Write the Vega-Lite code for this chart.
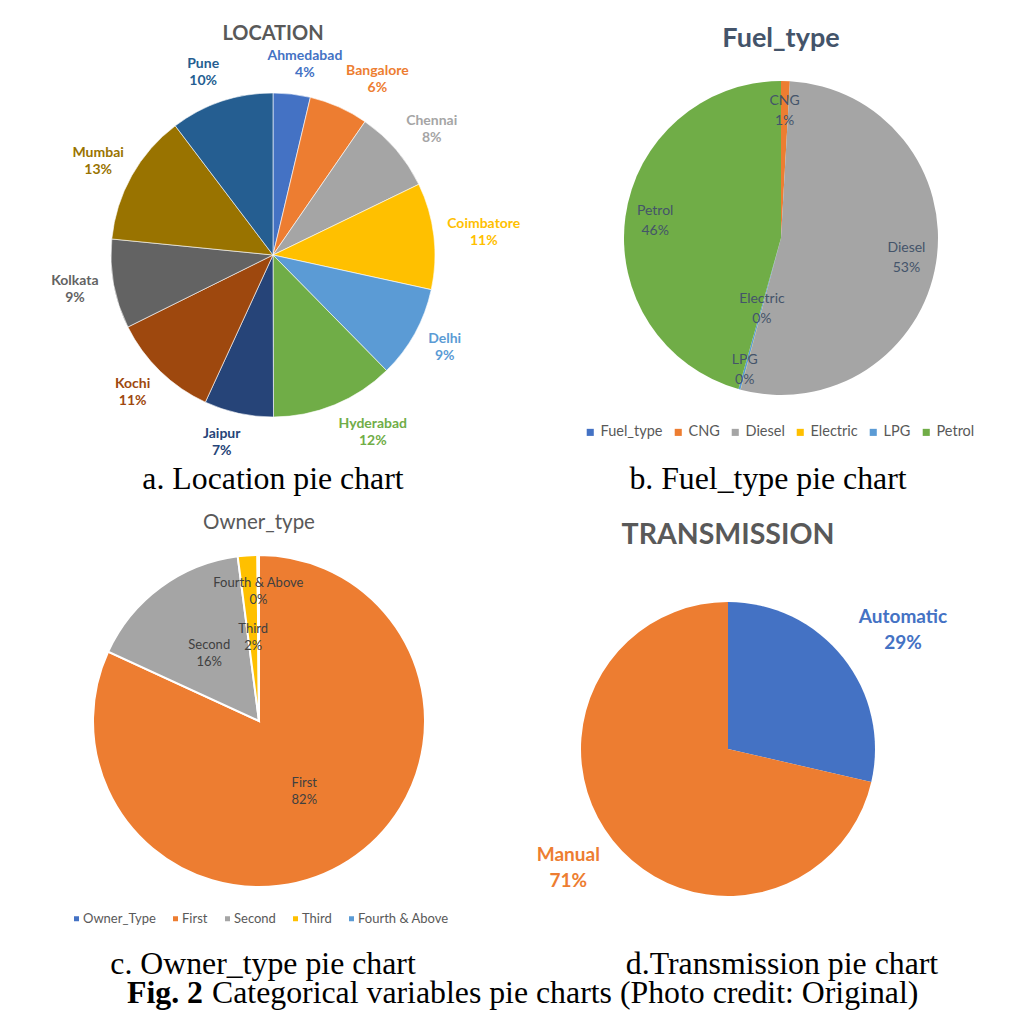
{
  "$schema": "https://vega.github.io/schema/vega-lite/v6.json",
  "padding": {"left": 51, "top": 23, "right": 0, "bottom": 0},
  "background": "white",
  "config": {"view": {"stroke": null}, "text": {"font": "Lato"}, "title": {"font": "Lato"}},
  "resolve": {"scale": {"color": "independent", "theta": "independent"}, "legend": {"color": "independent"}},
  "columns": 2,
  "spacing": {"row": 0, "column": 68},
  "bounds": "flush",
  "concat": [
    {
      "width": 400,
      "height": 318,
      "title": {"text": "LOCATION", "fontSize": 20, "fontWeight": "bold", "color": "#595959", "frame": "group", "offset": 5},
      "data": {"values": [
        {"name": "Ahmedabad", "v": 3.7, "k": 1},
        {"name": "Bangalore", "v": 5.9, "k": 2},
        {"name": "Chennai", "v": 8.2, "k": 3},
        {"name": "Coimbatore", "v": 10.6, "k": 4},
        {"name": "Delhi", "v": 9.2, "k": 5},
        {"name": "Hyderabad", "v": 12.3, "k": 6},
        {"name": "Jaipur", "v": 6.9, "k": 7},
        {"name": "Kochi", "v": 10.8, "k": 8},
        {"name": "Kolkata", "v": 8.9, "k": 9},
        {"name": "Mumbai", "v": 13.1, "k": 10},
        {"name": "Pune", "v": 10.3, "k": 11}
      ]},
      "transform": [{"calculate": "datum.name + '\\n' + format(datum.v, '.0f') + '%'", "as": "lab"}],
      "encoding": {
        "theta": {"field": "v", "type": "quantitative", "stack": true},
        "order": {"field": "k", "type": "quantitative"},
        "color": {"field": "name", "type": "nominal", "legend": null,
          "scale": {"domain": ["Ahmedabad","Bangalore","Chennai","Coimbatore","Delhi","Hyderabad","Jaipur","Kochi","Kolkata","Mumbai","Pune"],
                    "range": ["#4472C4","#ED7D31","#A5A5A5","#FFC000","#5B9BD5","#70AD47","#264478","#9E480E","#636363","#997300","#255E91"]}}
      },
      "layer": [
        {"mark": {"type": "arc", "outerRadius": 162, "stroke": "white", "strokeWidth": 0.6}},
        {"mark": {"type": "text", "radius": 175, "fontSize": 14, "fontWeight": "bold", "lineBreak": "\n", "lineHeight": 17,
                  "dx": {"expr": "(sin(PI*(datum.v_start+datum.v_end)/99.9) >= 0 ? 1 : -1) * min(1, 3*abs(sin(PI*(datum.v_start+datum.v_end)/99.9))) * length(datum.name) * 3.7"},
                  "dy": {"expr": "-8.5 - 17*cos(PI*(datum.v_start+datum.v_end)/99.9)"}},
         "encoding": {"text": {"field": "lab", "type": "nominal"}}}
      ]
    },
    {
      "width": 480,
      "height": 284,
      "title": {"text": "Fuel_type", "fontSize": 27, "fontWeight": "bold", "color": "#44546A", "frame": "group", "offset": 28},
      "data": {"values": [
        {"name": "CNG", "v": 0.9, "k": 1},
        {"name": "Diesel", "v": 53.2, "k": 2},
        {"name": "Electric", "v": 0.03, "k": 3},
        {"name": "LPG", "v": 0.2, "k": 4},
        {"name": "Petrol", "v": 45.6, "k": 5}
      ]},
      "transform": [{"calculate": "datum.name + '\\n' + format(datum.v, '.0f') + '%'", "as": "lab"}],
      "encoding": {
        "theta": {"field": "v", "type": "quantitative", "stack": true},
        "order": {"field": "k", "type": "quantitative"},
        "detail": {"field": "name", "type": "nominal"}
      },
      "layer": [
        {"mark": {"type": "arc", "outerRadius": 157},
         "encoding": {
           "color": {"field": "name", "type": "nominal",
             "scale": {"domain": ["Fuel_type","CNG","Diesel","Electric","LPG","Petrol"],
                       "range": ["#4472C4","#ED7D31","#A5A5A5","#FFC000","#5B9BD5","#70AD47"]},
             "legend": {"orient": "none", "legendX": 42, "legendY": 329, "direction": "horizontal", "title": null,
                        "symbolType": "square", "symbolSize": 50, "symbolStrokeWidth": 0, "labelFont": "Lato",
                        "labelFontSize": 14.5, "labelColor": "#595959", "columnPadding": 8, "labelOffset": 3}}
         }},
        {"mark": {"type": "text", "radius": 127, "dy": -10, "fontSize": 14, "lineBreak": "\n", "lineHeight": 20, "color": "#44546A"},
         "encoding": {"text": {"condition": {"test": "datum.name === 'Electric' || datum.name === 'LPG'", "value": ""}, "field": "lab", "type": "nominal"}}},
        {"mark": {"type": "text", "radius": 74, "dy": -10, "fontSize": 14, "lineBreak": "\n", "lineHeight": 20, "color": "#44546A"},
         "encoding": {"text": {"condition": {"test": "datum.name !== 'Electric'", "value": ""}, "field": "lab", "type": "nominal"}}},
        {"mark": {"type": "text", "radius": 137, "dy": -10, "fontSize": 14, "lineBreak": "\n", "lineHeight": 20, "color": "#44546A"},
         "encoding": {"text": {"condition": {"test": "datum.name !== 'LPG'", "value": ""}, "field": "lab", "type": "nominal"}}}
      ]
    },
    {
      "width": 400,
      "height": 130,
      "data": {"values": [{"caption": "a. Location pie chart"}]},
      "mark": {"type": "text", "font": "Liberation Serif", "fontSize": 31.8, "color": "black"},
      "encoding": {"text": {"field": "caption", "type": "nominal"}}
    },
    {
      "width": 454,
      "height": 130,
      "data": {"values": [{"caption": "b. Fuel_type pie chart"}]},
      "mark": {"type": "text", "font": "Liberation Serif", "fontSize": 31.8, "color": "black"},
      "encoding": {"text": {"field": "caption", "type": "nominal"}}
    },
    {
      "width": 372,
      "height": 354,
      "title": {"text": "Owner_type", "fontSize": 20.5, "fontWeight": "normal", "color": "#595959", "frame": "group", "offset": 11},
      "data": {"values": [
        {"name": "First", "v": 81.9, "k": 1},
        {"name": "Second", "v": 16.1, "k": 2},
        {"name": "Third", "v": 1.9, "k": 3},
        {"name": "Fourth & Above", "v": 0.15, "k": 4}
      ]},
      "transform": [{"calculate": "datum.name + '\\n' + format(datum.v, '.0f') + '%'", "as": "lab"}],
      "encoding": {
        "theta": {"field": "v", "type": "quantitative", "stack": true},
        "order": {"field": "k", "type": "quantitative"},
        "detail": {"field": "name", "type": "nominal"}
      },
      "layer": [
        {"mark": {"type": "arc", "outerRadius": 166, "stroke": "white", "strokeWidth": 2},
         "encoding": {
           "color": {"field": "name", "type": "nominal",
             "scale": {"domain": ["Owner_Type","First","Second","Third","Fourth & Above"],
                       "range": ["#4472C4","#ED7D31","#A5A5A5","#FFC000","#5B9BD5"]},
             "legend": {"orient": "none", "legendX": -3, "legendY": 368, "direction": "horizontal", "title": null,
                        "symbolType": "square", "symbolSize": 25, "symbolStrokeWidth": 0, "labelFont": "Lato",
                        "labelFontSize": 13, "labelColor": "#595959", "columnPadding": 13, "labelOffset": 0}}
         }},
        {"mark": {"type": "text", "radius": 84, "dy": -8.5, "fontSize": 13, "lineBreak": "\n", "lineHeight": 17, "color": "#404040"},
         "encoding": {"text": {"condition": {"test": "datum.name === 'Fourth & Above'", "value": ""}, "field": "lab", "type": "nominal"}}},
        {"mark": {"type": "text", "radius": 130, "dy": -8.5, "fontSize": 13, "lineBreak": "\n", "lineHeight": 17, "color": "#404040"},
         "encoding": {"text": {"condition": {"test": "datum.name !== 'Fourth & Above'", "value": ""}, "field": "lab", "type": "nominal"}}}
      ]
    },
    {
      "width": 374,
      "height": 410,
      "title": {"text": "TRANSMISSION", "fontSize": 28.5, "fontWeight": "bold", "color": "#595959", "frame": "group", "offset": 0, "dy": 5},
      "data": {"values": [
        {"name": "Automatic", "v": 28.6, "k": 1},
        {"name": "Manual", "v": 71.4, "k": 2}
      ]},
      "transform": [{"calculate": "datum.name + '\\n' + format(datum.v, '.0f') + '%'", "as": "lab"}],
      "encoding": {
        "theta": {"field": "v", "type": "quantitative", "stack": true},
        "order": {"field": "k", "type": "quantitative"},
        "color": {"field": "name", "type": "nominal", "legend": null,
          "scale": {"domain": ["Automatic","Manual"], "range": ["#4472C4","#ED7D31"]}}
      },
      "layer": [
        {"mark": {"type": "arc", "outerRadius": 147}},
        {"mark": {"type": "text", "radius": 165, "fontSize": 19, "fontWeight": "bold", "lineBreak": "\n", "lineHeight": 26,
                  "dx": {"expr": "(sin(PI*(datum.v_start+datum.v_end)/100) >= 0 ? 1 : -1) * length(datum.name) * 5.1"},
                  "dy": {"expr": "-13 - 26*cos(PI*(datum.v_start+datum.v_end)/100)"}},
         "encoding": {"text": {"field": "lab", "type": "nominal"}}}
      ]
    },
    {
      "width": 380,
      "height": 20,
      "data": {"values": [{"caption": "c. Owner_type pie chart"}]},
      "mark": {"type": "text", "font": "Liberation Serif", "fontSize": 31.8, "color": "black"},
      "encoding": {"text": {"field": "caption", "type": "nominal"}}
    },
    {
      "width": 482,
      "height": 20,
      "data": {"values": [{"caption": "d.Transmission pie chart"}]},
      "mark": {"type": "text", "font": "Liberation Serif", "fontSize": 31.8, "color": "black"},
      "encoding": {"text": {"field": "caption", "type": "nominal"}}
    },
    {
      "width": 268,
      "height": 38,
      "data": {"values": [{"fig": "Fig. 2", "caption": "Categorical variables pie charts (Photo credit: Original)"}]},
      "layer": [
        {"mark": {"type": "text", "align": "right", "dx": -4, "font": "Liberation Serif", "fontSize": 31.8, "fontWeight": "bold", "color": "black"},
         "encoding": {"text": {"field": "fig", "type": "nominal"}}},
        {"mark": {"type": "text", "align": "left", "dx": 5, "font": "Liberation Serif", "fontSize": 31.8, "color": "black"},
         "encoding": {"text": {"field": "caption", "type": "nominal"}}}
      ]
    }
  ]
}
